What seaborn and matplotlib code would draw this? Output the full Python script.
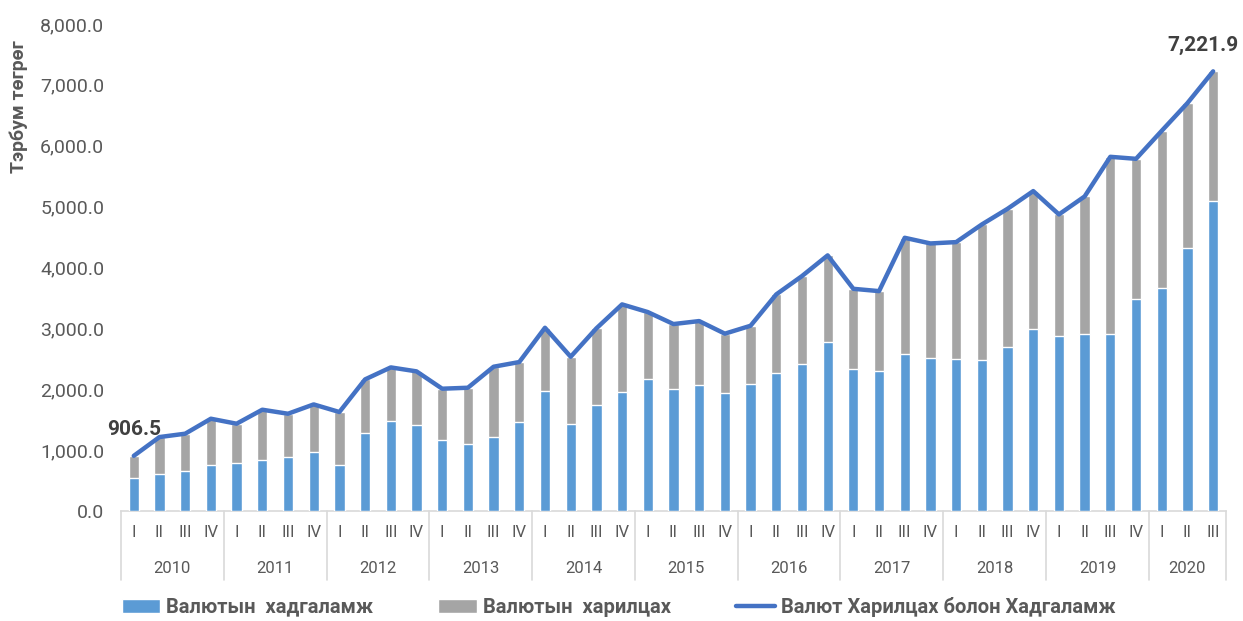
import numpy as np
import matplotlib
matplotlib.use("Agg")
import matplotlib.pyplot as plt
import matplotlib.transforms as mtransforms
import seaborn as sns

# --- data ---
years = ["2010", "2011", "2012", "2013", "2014", "2015",
         "2016", "2017", "2018", "2019", "2020"]
quarters = ["I", "II", "III", "IV"] * 10 + ["I", "II", "III"]

# Валют Харилцах болон Хадгаламж (total)
total = [906.5, 1215, 1270, 1516, 1434, 1664, 1598, 1751,
         1626, 2162, 2359, 2294, 2009, 2025, 2370, 2447,
         3010, 2534, 3000, 3394, 3268, 3071, 3120, 2913,
         3043, 3558, 3859, 4199, 3650, 3612, 4488, 4395,
         4417, 4707, 4964, 5255, 4872, 5167, 5818, 5785,
         6245, 6700, 7221.9]
# Валютын хадгаламж
deposits = [547, 602, 657, 750, 783, 843, 881, 963,
            761, 1275, 1483, 1417, 1171, 1095, 1221, 1466,
            1976, 1434, 1735, 1949, 2167, 2000, 2076, 1931,
            2093, 2263, 2419, 2780, 2332, 2304, 2583, 2512,
            2490, 2479, 2693, 2994, 2879, 2912, 2906, 3476,
            3662, 4324, 5090]
# Валютын харилцах = total - deposits
current = [t - d for t, d in zip(total, deposits)]

BLUE = "#5B9BD5"
GRAY = "#A5A5A5"
LINE = "#4472C4"
TXT = "#595959"

sns.set_style("white")
plt.rcParams['font.family'] = ['Roboto', 'DejaVu Sans']

fig = plt.figure(figsize=(12.43, 6.21), dpi=100)
ax = fig.add_axes([0.0973, 0.1771, 0.8890, 0.7843])

idx = np.arange(len(total))
stack_top = [d + c for d, c in zip(deposits, current)]

# stacked bars: grey on top of blue
sns.barplot(x=idx, y=stack_top, color=GRAY, saturation=1, width=0.4,
            ax=ax, label="Валютын  харилцах", zorder=2)
sns.barplot(x=idx, y=deposits, color=BLUE, saturation=1, width=0.4,
            ax=ax, label="Валютын  хадгаламж", zorder=3)
sns.lineplot(x=idx, y=total, color=LINE, linewidth=3.2, ax=ax,
             label="Валют Харилцах болон Хадгаламж", zorder=4)

ax.set_xlim(-0.5, len(total) - 0.5)
ax.set_ylim(0, 8000)
ax.set_yticks(np.arange(0, 8001, 1000))
ax.yaxis.set_major_formatter(matplotlib.ticker.FuncFormatter(lambda v, p: f"{v:,.1f}"))
ax.tick_params(axis="y", length=0, labelsize=14, labelcolor=TXT, pad=12)

# quarter labels
ax.set_xticks(idx)
ax.set_xticklabels(quarters)
ax.tick_params(axis="x", length=0, labelsize=12, labelcolor=TXT, pad=10)

for s in ["left", "right", "top"]:
    ax.spines[s].set_visible(False)
ax.spines["bottom"].set_color("#D9D9D9")
ax.spines["bottom"].set_linewidth(1.2)
ax.grid(False)

# year labels and separators
trans = mtransforms.blended_transform_factory(ax.transData, ax.transAxes)
sep_depth = -0.142
bounds = [-0.5 + 4 * i for i in range(len(years))] + [len(total) - 0.5]
for b in bounds:
    ax.plot([b, b], [0, sep_depth], transform=trans, color="#D9D9D9",
            lw=1.2, clip_on=False)
for i, yr in enumerate(years):
    mid = (bounds[i] + bounds[i + 1]) / 2
    ax.text(mid, -0.117, yr, transform=trans, ha="center", va="center",
            fontsize=12, color=TXT)

# end-point labels
ax.annotate(f"{total[0]:,.1f}", (0, total[0]), xytext=(0, 12),
            textcoords="offset points", ha="center", va="bottom",
            fontsize=15, fontweight="bold", color="#404040")
ax.annotate(f"{total[-1]:,.1f}", (idx[-1], total[-1]), xytext=(-7, 12),
            textcoords="offset points", ha="center", va="bottom",
            fontsize=15, fontweight="bold", color="#404040")

ax.set_xlabel("")
ax.set_ylabel("Тэрбум төгрөг", fontsize=14, fontweight="bold", color=TXT)
ax.yaxis.set_label_coords(-0.084, 0.83)

# legend under the chart
handles, labels = ax.get_legend_handles_labels()
order = [labels.index("Валютын  хадгаламж"), labels.index("Валютын  харилцах"),
         labels.index("Валют Харилцах болон Хадгаламж")]
if ax.get_legend():
    ax.get_legend().remove()
leg = fig.legend([handles[i] for i in order], [labels[i] for i in order],
                 loc="center", bbox_to_anchor=(0.4975, 0.023), ncol=3,
                 frameon=False, handlelength=1.9, handletextpad=0.3,
                 columnspacing=3.25, prop={"size": 14.5, "weight": "bold"})
for t in leg.get_texts():
    t.set_color(TXT)

fig.savefig("out.png", dpi=100)
